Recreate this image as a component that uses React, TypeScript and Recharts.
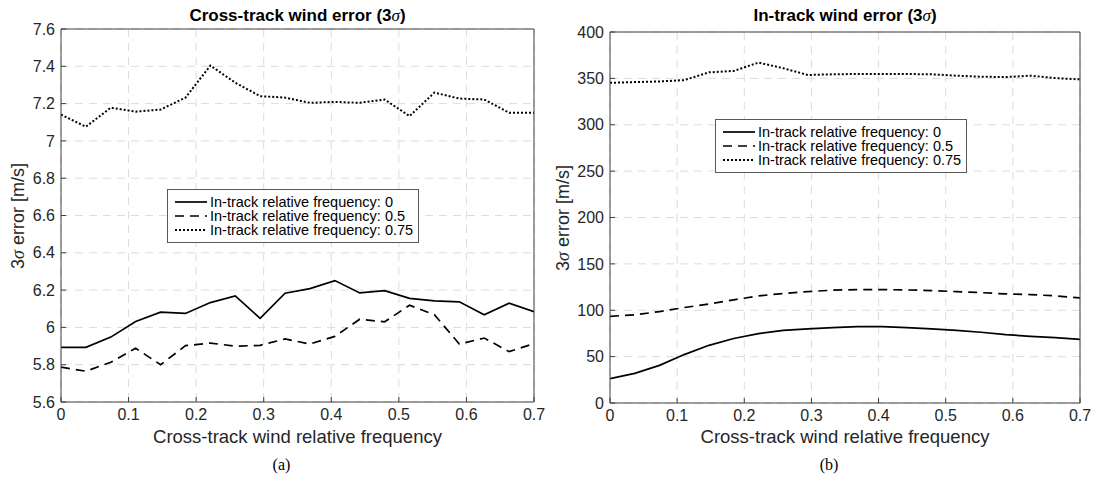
import React from "react";
import { LineChart, Line, XAxis, YAxis, CartesianGrid, Legend } from "recharts";

// cross-track wind relative frequency (x), shared by both panels
const FREQ = [
  0, 0.0368, 0.0737, 0.1105, 0.1474, 0.1842, 0.2211, 0.2579, 0.2947, 0.3316,
  0.3684, 0.4053, 0.4421, 0.4789, 0.5158, 0.5526, 0.5895, 0.6263, 0.6632, 0.7,
];
const X_TICKS = [0, 0.1, 0.2, 0.3, 0.4, 0.5, 0.6, 0.7];

const SERIES_NAMES = [
  "In-track relative frequency: 0",
  "In-track relative frequency: 0.5",
  "In-track relative frequency: 0.75",
];

// (a) cross-track wind error
const CROSS_Y_TICKS = [5.6, 5.8, 6, 6.2, 6.4, 6.6, 6.8, 7, 7.2, 7.4, 7.6];
const CROSS_F0 = [
  5.893, 5.893, 5.948, 6.032, 6.082, 6.075, 6.133, 6.169, 6.048, 6.183,
  6.208, 6.251, 6.185, 6.197, 6.156, 6.142, 6.137, 6.068, 6.13, 6.084,
];
const CROSS_F05 = [
  5.787, 5.765, 5.813, 5.888, 5.8, 5.902, 5.916, 5.899, 5.904, 5.938,
  5.911, 5.952, 6.044, 6.03, 6.119, 6.068, 5.911, 5.943, 5.87, 5.913,
];
const CROSS_F075 = [
  7.141, 7.076, 7.178, 7.157, 7.168, 7.232, 7.404, 7.312, 7.24, 7.232,
  7.204, 7.209, 7.204, 7.222, 7.133, 7.259, 7.227, 7.222, 7.151, 7.151,
];

// (b) in-track wind error
const IN_Y_TICKS = [0, 50, 100, 150, 200, 250, 300, 350, 400];
const IN_F0 = [
  26.3, 32, 40.6, 52.2, 62.2, 69.5, 74.8, 78.4, 79.9, 81.3,
  82.4, 82.4, 81.3, 79.9, 78.4, 76.3, 73.7, 71.9, 70.5, 68.7,
];
const IN_F05 = [
  93.5, 95, 98.6, 102.9, 106.8, 111.2, 115.5, 118, 120.1, 121.6,
  122.3, 122.3, 121.9, 121.2, 120.1, 119, 117.6, 116.9, 115.5, 113.3,
];
const IN_F075 = [
  345.2, 346, 346.7, 348.1, 356.5, 358, 367, 361, 353.6, 354.4,
  354.7, 354.7, 354.7, 354.4, 352.9, 351.8, 351.4, 352.9, 350.3, 348.9,
];

const FONT = '"Liberation Sans", Arial, Helvetica, sans-serif';
const TEXT = "#262626";
const AXIS = "#404040";
const STROKES = [
  { width: 1.7, dash: undefined },
  { width: 1.7, dash: "9 6" },
  { width: 2, dash: "2 2" },
];

type Box = { top: number; right: number; bottom: number; left: number };

type PanelProps = {
  x: number;
  title: string;
  caption: string;
  series: number[][];
  yTicks: number[];
  plot: Box; // plot-area edges inside the panel
  legendPos: { left: number; top: number };
  yLabelX: number;
};

const W = 547;
const H = 480;
const BOTTOM_AXIS_H = 40;
const LEFT_AXIS_W = 50;

function renderLegend(props: any) {
  const payload = props.payload || [];
  return (
    <div
      style={{
        border: "1px solid #595959",
        background: "#fff",
        padding: "5px 4px 5px 7px",
        width: 252,
        boxSizing: "border-box",
      }}
    >
      {payload.map((entry: any, i: number) => (
        <div key={i} style={{ display: "flex", alignItems: "center", height: 14 }}>
          <svg width={32} height={6}>
            <line
              x1={0}
              y1={3}
              x2={32}
              y2={3}
              stroke="#000"
              strokeWidth={STROKES[i].width}
              strokeDasharray={STROKES[i].dash}
            />
          </svg>
          <span
            style={{
              marginLeft: 3,
              fontSize: 14.5,
              fontFamily: FONT,
              color: "#000",
              whiteSpace: "nowrap",
              lineHeight: "14px",
            }}
          >
            {entry.value}
          </span>
        </div>
      ))}
    </div>
  );
}

function Panel({ x, title, caption, series, yTicks, plot, legendPos, yLabelX }: PanelProps) {
  const data = FREQ.map((f, i) => ({
    f,
    s0: series[0][i],
    s1: series[1][i],
    s2: series[2][i],
  }));
  const margin = {
    top: plot.top - 1,
    right: W - plot.right - 1,
    bottom: H - plot.bottom - BOTTOM_AXIS_H,
    left: plot.left - LEFT_AXIS_W,
  };
  const plotCenter = (plot.left + plot.right) / 2;
  const plotMid = (plot.top + plot.bottom) / 2;
  const yDomain = [yTicks[0], yTicks[yTicks.length - 1]];
  const tickStyle = { fill: TEXT, fontSize: 16, fontFamily: FONT };

  return (
    <div style={{ position: "absolute", left: x, top: 0, width: W, height: H }}>
      <LineChart width={W} height={H} data={data} margin={margin}>
        <CartesianGrid
          xAxisId="b"
          yAxisId="l"
          stroke="#dcdcdc"
          strokeDasharray="8 6"
        />
        <XAxis
          xAxisId="b"
          dataKey="f"
          type="number"
          domain={[0, 0.7]}
          ticks={X_TICKS}
          allowDataOverflow
          height={BOTTOM_AXIS_H}
          stroke={AXIS}
          tickSize={-5}
          tickMargin={12}
          tick={tickStyle}
        />
        <XAxis
          xAxisId="t"
          orientation="top"
          type="number"
          domain={[0, 0.7]}
          ticks={X_TICKS}
          allowDataOverflow
          height={1}
          stroke={AXIS}
          tickSize={-5}
          tick={false}
        />
        <YAxis
          yAxisId="l"
          type="number"
          domain={yDomain}
          ticks={yTicks}
          allowDataOverflow
          width={LEFT_AXIS_W}
          stroke={AXIS}
          tickSize={-5}
          tickMargin={11}
          tick={tickStyle}
        />
        <YAxis
          yAxisId="r"
          orientation="right"
          type="number"
          domain={yDomain}
          ticks={yTicks}
          allowDataOverflow
          width={1}
          stroke={AXIS}
          tickSize={-5}
          tick={false}
        />
        <Legend
          layout="vertical"
          align="center"
          verticalAlign="middle"
          content={renderLegend}
          wrapperStyle={{ left: legendPos.left, top: legendPos.top, width: 252 }}
        />
        {["s0", "s1", "s2"].map((key, i) => (
          <Line
            key={key}
            xAxisId="b"
            yAxisId="l"
            dataKey={key}
            name={SERIES_NAMES[i]}
            type="linear"
            stroke="#000"
            strokeWidth={STROKES[i].width}
            strokeDasharray={STROKES[i].dash}
            dot={false}
            activeDot={false}
            isAnimationActive={false}
          />
        ))}
      </LineChart>

      <div
        style={{
          position: "absolute",
          left: plotCenter - 200,
          top: 6,
          width: 400,
          textAlign: "center",
          fontFamily: FONT,
          fontWeight: "bold",
          fontSize: 17,
          lineHeight: "20px",
          color: "#000",
        }}
      >
        {title} (3
        <span style={{ fontFamily: '"Liberation Serif", serif', fontStyle: "italic", fontWeight: "normal" }}>σ</span>)
      </div>

      <div
        style={{
          position: "absolute",
          left: yLabelX - 150,
          top: plotMid - 11,
          width: 300,
          height: 22,
          transform: "rotate(-90deg)",
          textAlign: "center",
          fontFamily: FONT,
          fontSize: 18,
          lineHeight: "22px",
          color: TEXT,
        }}
      >
        3<span style={{ fontFamily: '"Liberation Serif", serif', fontStyle: "italic" }}>σ</span> error [m/s]
      </div>

      <div
        style={{
          position: "absolute",
          left: plotCenter - 250,
          top: 426,
          width: 500,
          textAlign: "center",
          fontFamily: FONT,
          fontSize: 18.5,
          lineHeight: "22px",
          color: TEXT,
        }}
      >
        Cross-track wind relative frequency
      </div>

      <div
        style={{
          position: "absolute",
          left: plotCenter - 16 - 50,
          top: 455,
          width: 100,
          textAlign: "center",
          fontFamily: '"Liberation Serif", "Times New Roman", serif',
          fontSize: 16,
          lineHeight: "20px",
          color: "#000",
        }}
      >
        {caption}
      </div>
    </div>
  );
}

export default function App() {
  return (
    <div style={{ position: "absolute", left: 0, top: 0, width: 1094, height: 480, background: "#fff" }}>
      <Panel
        x={0}
        title="Cross-track wind error"
        caption="(a)"
        series={[CROSS_F0, CROSS_F05, CROSS_F075]}
        yTicks={CROSS_Y_TICKS}
        plot={{ top: 29, right: 534, bottom: 402, left: 61 }}
        legendPos={{ left: 167, top: 189 }}
        yLabelX={18}
      />
      <Panel
        x={547}
        title="In-track wind error"
        caption="(b)"
        series={[IN_F0, IN_F05, IN_F075]}
        yTicks={IN_Y_TICKS}
        plot={{ top: 32, right: 533, bottom: 403, left: 63 }}
        legendPos={{ left: 168, top: 119 }}
        yLabelX={16}
      />
    </div>
  );
}
